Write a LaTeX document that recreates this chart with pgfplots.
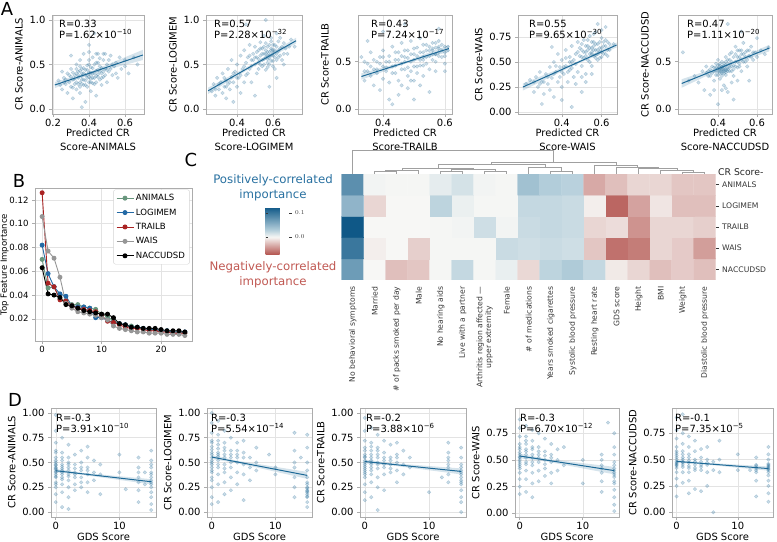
\documentclass[border=0pt]{standalone}
\usepackage{fontspec}
\setmainfont{DejaVu Sans}
\usepackage{pgfplots}
\pgfplotsset{compat=1.18}
\usetikzlibrary{calc}

\definecolor{cblue}{RGB}{28,104,150}
\definecolor{posblue}{RGB}{40,112,160}
\definecolor{negred}{RGB}{192,88,82}
\definecolor{cAn}{RGB}{104,150,125}
\definecolor{cLo}{RGB}{35,105,165}
\definecolor{cTr}{RGB}{170,35,35}
\definecolor{cWa}{RGB}{150,150,150}
\definecolor{dendro}{RGB}{160,160,160}
\definecolor{lbl}{RGB}{55,55,55}

\newcommand\fA{\fontsize{10}{14}\selectfont}
\newcommand\fB{\fontsize{8.6}{10.5}\selectfont}
\newcommand\fH{\fontsize{7.7}{8.8}\selectfont}
\newcommand\fL{\fontsize{18}{20}\selectfont}

\pgfplotsset{
 base/.style={scale only axis, anchor=north west,
   axis line style={draw=gray!65, line width=0.6pt},
   tick style={draw=gray!65, line width=0.6pt},
   tick align=outside, major tick length=3bp,
   xtick pos=bottom, ytick pos=left, grid=major,
   grid style={draw=gray!22, line width=0.5pt},
   /pgf/number format/assume math mode=true,
   tick label style={font=\fA}, label style={font=\fA},
   xticklabel style={yshift=1.5bp}},
 fx1/.style={xticklabel style={/pgf/number format/fixed,/pgf/number format/precision=1,/pgf/number format/fixed zerofill}},
 fy1/.style={yticklabel style={/pgf/number format/fixed,/pgf/number format/precision=1,/pgf/number format/fixed zerofill}},
 fy2/.style={yticklabel style={/pgf/number format/fixed,/pgf/number format/precision=2,/pgf/number format/fixed zerofill}},
 sc/.style={only marks, mark=*, mark size=1.8bp, color=cblue, opacity=0.22},
 scd/.style={only marks, mark=*, mark size=1.8bp, color=cblue, opacity=0.24},
 rl/.style={cblue, line width=1pt, no marks},
 band/.style={fill=cblue, fill opacity=0.18, draw=none, no marks},
 pa/.style={base, fx1, height=99bp, xtick={0.2,0.4,0.6},
   xlabel style={at={(axis description cs:0.5,0)}, anchor=north, align=center, yshift=-15bp, inner sep=0pt}},
 pd/.style={base, fy2, height=109bp, xmin=-0.75, xmax=15.75, xtick={0,10}, xlabel={GDS Score},
   xlabel style={at={(axis description cs:0.5,0)}, anchor=north, yshift=-15.5bp, inner sep=0pt}},
 dl/.style={dendro, line width=0.6pt, no marks},
 bl/.style={line width=0.9pt, mark=*, mark size=2bp},
}

\begin{document}
\begin{tikzpicture}
\useasboundingbox (0,0) rectangle (777bp,-542bp);

%================ Panel A =================
\begin{axis}[pa, at={(52bp,-15bp)}, width=92bp, xmin=0.194, xmax=0.706, ymin=-0.056, ymax=1.056, ytick={0,0.5,1}, fy1,
  xlabel={Predicted CR\\Score-ANIMALS}, ylabel={CR Score-ANIMALS}]
\addplot[band] coordinates {(0.21,0.235)(0.40,0.388)(0.70,0.55)(0.70,0.665)(0.40,0.414)(0.21,0.305)};
\addplot[sc] coordinates {(0.23,0.32)(0.25,0.22)(0.26,0.35)(0.27,0.28)(0.28,0.18)(0.28,0.40)(0.29,0.30)(0.30,0.25)(0.30,0.45)(0.31,0.33)(0.31,0.12)(0.32,0.38)(0.32,0.28)(0.33,0.22)(0.33,0.50)(0.34,0.35)(0.34,0.42)(0.35,0.30)(0.35,0.18)(0.35,0.55)(0.36,0.40)(0.36,0.33)(0.37,0.27)(0.37,0.46)(0.37,0.62)(0.38,0.38)(0.38,0.08)(0.38,0.32)(0.39,0.44)(0.39,0.25)(0.40,0.36)(0.40,0.50)(0.40,0.72)(0.41,0.30)(0.41,0.41)(0.41,0.20)(0.42,0.46)(0.42,0.35)(0.42,0.58)(0.43,0.40)(0.43,0.28)(0.44,0.52)(0.44,0.37)(0.44,0.15)(0.45,0.44)(0.45,0.62)(0.46,0.33)(0.46,0.48)(0.47,0.40)(0.47,0.27)(0.48,0.55)(0.48,0.36)(0.49,0.62)(0.49,0.45)(0.50,0.30)(0.50,0.50)(0.51,0.42)(0.52,0.60)(0.53,0.38)(0.54,0.48)(0.55,0.52)(0.56,0.35)(0.58,0.45)(0.60,0.55)(0.62,0.40)(0.65,0.58)(0.67,0.50)(0.36,0.02)(0.30,0.60)(0.25,0.42)(0.43,0.85)(0.40,0.64)(0.39,0.35)(0.41,0.38)(0.36,0.45)(0.34,0.28)(0.45,0.36)(0.33,0.40)
(0.30,0.36)(0.31,0.41)(0.32,0.34)(0.33,0.30)(0.34,0.38)(0.35,0.43)(0.35,0.25)(0.36,0.37)(0.37,0.33)(0.37,0.40)(0.38,0.44)(0.38,0.27)(0.39,0.38)(0.39,0.49)(0.40,0.41)(0.40,0.30)(0.41,0.47)(0.41,0.34)(0.42,0.40)(0.42,0.29)(0.43,0.50)(0.43,0.35)(0.44,0.43)(0.44,0.30)(0.45,0.39)(0.45,0.52)(0.46,0.42)(0.46,0.57)(0.47,0.46)(0.47,0.35)(0.48,0.42)(0.49,0.38)(0.50,0.44)(0.51,0.55)(0.52,0.45)(0.53,0.50)(0.35,0.48)(0.33,0.45)(0.29,0.38)(0.27,0.33)(0.31,0.24)(0.36,0.28)(0.40,0.55)(0.44,0.62)(0.48,0.62)(0.26,0.30)(0.24,0.27)(0.55,0.40)(0.57,0.58)(0.60,0.48)};
\addplot[rl] coordinates {(0.21,0.27)(0.70,0.607)};
\end{axis}

\begin{axis}[pa, at={(206bp,-15bp)}, width=96bp, xmin=0.228, xmax=0.761, ymin=-0.056, ymax=1.056, ytick={0,0.5,1}, xtick={0.4,0.6}, fy1,
  xlabel={Predicted CR\\Score-LOGIMEM}, ylabel={CR Score-LOGIMEM}]
\addplot[band] coordinates {(0.24,0.17)(0.5,0.49)(0.728,0.735)(0.728,0.80)(0.5,0.52)(0.24,0.24)};
\addplot[sc] coordinates {(0.26,0.20)(0.27,0.28)(0.28,0.15)(0.29,0.35)(0.30,0.22)(0.31,0.30)(0.32,0.18)(0.32,0.40)(0.33,0.25)(0.34,0.32)(0.34,0.12)(0.35,0.45)(0.35,0.28)(0.36,0.22)(0.37,0.36)(0.37,0.55)(0.38,0.30)(0.38,0.08)(0.39,0.42)(0.40,0.25)(0.40,0.50)(0.41,0.35)(0.42,0.60)(0.42,0.18)(0.43,0.45)(0.44,0.30)(0.44,0.66)(0.45,0.52)(0.45,0.38)(0.46,0.58)(0.47,0.45)(0.47,0.72)(0.48,0.55)(0.48,0.30)(0.49,0.62)(0.50,0.50)(0.50,0.70)(0.51,0.58)(0.51,0.40)(0.52,0.66)(0.52,0.52)(0.53,0.75)(0.53,0.60)(0.54,0.48)(0.54,0.68)(0.55,0.56)(0.55,0.82)(0.56,0.62)(0.56,0.44)(0.57,0.70)(0.57,0.56)(0.58,0.64)(0.58,0.50)(0.59,0.76)(0.59,0.60)(0.60,0.66)(0.60,0.54)(0.61,0.72)(0.61,0.45)(0.62,0.62)(0.62,0.85)(0.63,0.58)(0.64,0.68)(0.65,0.55)(0.66,0.74)(0.68,0.62)(0.70,0.78)(0.72,0.70)(0.58,0.25)(0.50,0.15)(0.45,0.95)(0.56,1.00)(0.62,0.35)(0.57,0.60)(0.58,0.57)(0.59,0.66)(0.55,0.62)(0.60,0.60)
(0.50,0.58)(0.51,0.64)(0.52,0.56)(0.53,0.68)(0.53,0.50)(0.54,0.62)(0.55,0.70)(0.55,0.50)(0.56,0.58)(0.56,0.66)(0.56,0.74)(0.57,0.52)(0.57,0.64)(0.58,0.60)(0.58,0.72)(0.59,0.54)(0.59,0.68)(0.60,0.63)(0.60,0.72)(0.60,0.48)(0.61,0.58)(0.61,0.66)(0.62,0.70)(0.62,0.55)(0.63,0.65)(0.63,0.76)(0.64,0.60)(0.65,0.70)(0.66,0.62)(0.67,0.68)(0.48,0.48)(0.47,0.60)(0.46,0.40)(0.44,0.48)(0.42,0.38)(0.40,0.35)(0.38,0.40)(0.36,0.30)(0.34,0.25)(0.30,0.28)(0.28,0.22)(0.33,0.35)(0.49,0.55)(0.52,0.45)(0.54,0.55)(0.57,0.47)(0.59,0.80)(0.64,0.80)(0.66,0.50)(0.69,0.70)};
\addplot[rl] coordinates {(0.24,0.205)(0.728,0.767)};
\end{axis}

\begin{axis}[pa, at={(358bp,-15bp)}, width=94bp, xmin=0.319, xmax=0.623, ymin=-0.053, ymax=0.995, ytick={0,0.5}, xtick={0.4,0.6}, fy1,
  xlabel={Predicted CR\\Score-TRAILB}, ylabel={CR Score-TRAILB}]
\addplot[band] coordinates {(0.33,0.31)(0.47,0.478)(0.613,0.605)(0.613,0.675)(0.47,0.502)(0.33,0.378)};
\addplot[sc] coordinates {(0.33,0.55)(0.34,0.40)(0.34,0.30)(0.35,0.48)(0.36,0.35)(0.36,0.60)(0.37,0.42)(0.37,0.25)(0.38,0.50)(0.38,0.38)(0.39,0.55)(0.39,0.20)(0.40,0.45)(0.40,0.32)(0.40,0.62)(0.41,0.50)(0.41,0.40)(0.42,0.28)(0.42,0.56)(0.43,0.45)(0.43,0.66)(0.44,0.38)(0.44,0.52)(0.45,0.60)(0.45,0.30)(0.46,0.48)(0.46,0.70)(0.47,0.42)(0.47,0.55)(0.48,0.62)(0.48,0.35)(0.49,0.50)(0.49,0.72)(0.50,0.45)(0.50,0.58)(0.51,0.65)(0.51,0.38)(0.52,0.52)(0.52,0.75)(0.53,0.60)(0.53,0.46)(0.54,0.68)(0.54,0.55)(0.55,0.62)(0.55,0.42)(0.56,0.70)(0.56,0.58)(0.57,0.65)(0.57,0.50)(0.58,0.72)(0.58,0.60)(0.59,0.55)(0.60,0.66)(0.60,0.48)(0.61,0.62)(0.45,0.15)(0.50,0.10)(0.48,0.22)(0.43,0.05)(0.52,0.25)(0.55,0.18)(0.40,0.82)(0.47,0.90)(0.58,0.85)(0.35,0.72)(0.42,0.10)(0.56,0.62)(0.57,0.58)(0.58,0.66)(0.53,0.55)
(0.44,0.46)(0.45,0.52)(0.46,0.42)(0.46,0.56)(0.47,0.50)(0.47,0.62)(0.48,0.44)(0.48,0.54)(0.49,0.58)(0.49,0.40)(0.50,0.52)(0.50,0.64)(0.51,0.45)(0.51,0.56)(0.52,0.60)(0.52,0.46)(0.53,0.52)(0.53,0.68)(0.54,0.62)(0.54,0.48)(0.55,0.56)(0.55,0.66)(0.56,0.52)(0.56,0.64)(0.57,0.58)(0.57,0.70)(0.58,0.56)(0.58,0.64)(0.59,0.62)(0.59,0.68)(0.60,0.60)(0.60,0.56)(0.61,0.66)(0.36,0.45)(0.38,0.42)(0.39,0.48)(0.41,0.44)(0.42,0.50)(0.43,0.38)(0.37,0.52)(0.35,0.40)(0.34,0.50)(0.40,0.55)(0.44,0.60)(0.50,0.30)(0.53,0.35)(0.57,0.40)(0.46,0.25)(0.49,0.30)(0.60,0.40)};
\addplot[rl] coordinates {(0.33,0.344)(0.613,0.64)};
\end{axis}

\begin{axis}[pa, at={(518bp,-15bp)}, width=99bp, xmin=0.18, xmax=0.677, ymin=-0.02, ymax=0.97, ytick={0,0.25,0.5,0.75}, xtick={0.4,0.6}, fy2,
  xlabel={Predicted CR\\Score-WAIS}, ylabel={CR Score-WAIS}]
\addplot[band] coordinates {(0.205,0.215)(0.47,0.475)(0.675,0.645)(0.675,0.695)(0.47,0.499)(0.205,0.285)};
\addplot[sc] coordinates {(0.22,0.28)(0.24,0.32)(0.26,0.20)(0.27,0.35)(0.28,0.25)(0.29,0.40)(0.30,0.30)(0.31,0.18)(0.32,0.38)(0.33,0.28)(0.34,0.45)(0.34,0.22)(0.35,0.34)(0.36,0.50)(0.36,0.15)(0.37,0.40)(0.38,0.30)(0.38,0.58)(0.39,0.45)(0.40,0.25)(0.40,0.52)(0.41,0.38)(0.42,0.62)(0.42,0.46)(0.43,0.30)(0.44,0.55)(0.44,0.42)(0.45,0.66)(0.45,0.50)(0.46,0.35)(0.47,0.58)(0.47,0.48)(0.48,0.70)(0.48,0.40)(0.49,0.56)(0.50,0.62)(0.50,0.46)(0.51,0.72)(0.51,0.54)(0.52,0.60)(0.52,0.38)(0.53,0.66)(0.53,0.52)(0.54,0.76)(0.54,0.58)(0.55,0.64)(0.55,0.46)(0.56,0.70)(0.56,0.56)(0.57,0.62)(0.57,0.80)(0.58,0.52)(0.58,0.68)(0.59,0.60)(0.60,0.74)(0.60,0.55)(0.61,0.66)(0.62,0.58)(0.63,0.70)(0.64,0.62)(0.66,0.68)(0.30,0.08)(0.45,0.05)(0.40,0.12)(0.58,0.88)(0.62,0.85)(0.35,0.65)(0.50,0.20)(0.55,0.60)(0.57,0.57)(0.59,0.64)
(0.48,0.60)(0.49,0.64)(0.50,0.55)(0.50,0.68)(0.51,0.60)(0.52,0.66)(0.52,0.56)(0.53,0.62)(0.53,0.72)(0.54,0.64)(0.54,0.50)(0.55,0.58)(0.55,0.70)(0.56,0.62)(0.56,0.66)(0.57,0.54)(0.57,0.68)(0.58,0.62)(0.58,0.58)(0.59,0.70)(0.59,0.54)(0.60,0.64)(0.60,0.60)(0.61,0.70)(0.61,0.58)(0.62,0.66)(0.62,0.72)(0.63,0.62)(0.63,0.56)(0.64,0.68)(0.46,0.52)(0.45,0.44)(0.44,0.50)(0.43,0.40)(0.42,0.54)(0.41,0.45)(0.40,0.40)(0.39,0.35)(0.37,0.46)(0.36,0.38)(0.33,0.35)(0.31,0.30)(0.29,0.28)(0.26,0.30)(0.50,0.35)(0.55,0.38)(0.52,0.30)(0.47,0.28)(0.56,0.78)(0.60,0.82)};
\addplot[rl] coordinates {(0.205,0.25)(0.675,0.67)};
\end{axis}

\begin{axis}[pa, at={(678bp,-15bp)}, width=94bp, xmin=0.195, xmax=0.677, ymin=-0.053, ymax=0.995, ytick={0,0.5}, xtick={0.4,0.6}, fy1,
  xlabel={Predicted CR\\Score-NACCUDSD}, ylabel={CR Score-NACCUDSD}]
\addplot[band] coordinates {(0.214,0.225)(0.44,0.448)(0.663,0.61)(0.663,0.68)(0.44,0.47)(0.214,0.315)};
\addplot[sc] coordinates {(0.22,0.60)(0.25,0.30)(0.28,0.35)(0.30,0.28)(0.32,0.40)(0.33,0.20)(0.34,0.45)(0.35,0.35)(0.36,0.42)(0.36,0.15)(0.37,0.38)(0.38,0.44)(0.38,0.30)(0.39,0.40)(0.39,0.48)(0.40,0.36)(0.40,0.43)(0.40,0.52)(0.41,0.40)(0.41,0.46)(0.41,0.32)(0.42,0.42)(0.42,0.38)(0.42,0.50)(0.43,0.44)(0.43,0.40)(0.43,0.25)(0.44,0.46)(0.44,0.36)(0.44,0.55)(0.45,0.42)(0.45,0.48)(0.45,0.18)(0.46,0.44)(0.46,0.52)(0.47,0.40)(0.47,0.60)(0.48,0.46)(0.48,0.35)(0.49,0.50)(0.49,0.66)(0.50,0.44)(0.50,0.55)(0.51,0.48)(0.51,0.62)(0.52,0.52)(0.52,0.40)(0.53,0.58)(0.53,0.70)(0.54,0.50)(0.55,0.62)(0.55,0.45)(0.56,0.56)(0.57,0.66)(0.58,0.52)(0.59,0.60)(0.60,0.55)(0.62,0.62)(0.64,0.58)(0.66,0.65)(0.45,0.90)(0.52,0.82)(0.40,0.05)(0.48,0.10)(0.56,0.30)(0.38,0.20)(0.60,0.75)(0.42,0.44)(0.43,0.42)(0.44,0.41)(0.41,0.43)
(0.40,0.40)(0.40,0.46)(0.41,0.42)(0.41,0.38)(0.41,0.48)(0.42,0.40)(0.42,0.45)(0.42,0.35)(0.43,0.46)(0.43,0.38)(0.43,0.48)(0.44,0.42)(0.44,0.39)(0.44,0.50)(0.45,0.44)(0.45,0.40)(0.45,0.52)(0.46,0.47)(0.46,0.40)(0.46,0.58)(0.47,0.45)(0.47,0.50)(0.48,0.42)(0.48,0.55)(0.49,0.45)(0.49,0.58)(0.50,0.50)(0.50,0.62)(0.51,0.55)(0.51,0.45)(0.52,0.58)(0.52,0.62)(0.53,0.50)(0.54,0.60)(0.54,0.55)(0.55,0.52)(0.56,0.62)(0.57,0.55)(0.58,0.60)(0.39,0.44)(0.39,0.36)(0.38,0.40)(0.37,0.45)(0.36,0.35)(0.35,0.40)(0.34,0.38)(0.44,0.22)(0.42,0.20)(0.47,0.28)(0.50,0.30)};
\addplot[rl] coordinates {(0.214,0.27)(0.663,0.645)};
\end{axis}

%================ Panel B =================
\begin{axis}[base, fy2, at={(35bp,-188bp)}, width=157bp, height=153bp, xmin=-1.2, xmax=25.2, ymin=0.0014, ymax=0.130,
  xtick={0,10,20}, ytick={0.02,0.04,0.06,0.08,0.10,0.12}, tick label style={font=\fB}, label style={font=\fB},
  ylabel={Top Feature Importance}, ylabel shift=-6bp,
  legend style={at={(0.985,0.99)}, anchor=north east, draw=gray!35, rounded corners=2bp, fill=white, font=\fB, row sep=2.6bp, inner sep=2.5bp, cells={anchor=west}}]
\addplot[bl, cAn] coordinates {(0,0.070)(1,0.046)(2,0.047)(3,0.037)(4,0.035)(5,0.032)(6,0.032)(7,0.030)(8,0.029)(9,0.028)(10,0.024)(11,0.022)(12,0.018)(13,0.016)(14,0.015)(15,0.014)(16,0.013)(17,0.012)(18,0.011)(19,0.011)(20,0.010)(21,0.010)(22,0.009)(23,0.009)(24,0.008)};
\addlegendentry{ANIMALS}
\addplot[bl, cLo] coordinates {(0,0.082)(1,0.058)(2,0.047)(3,0.041)(4,0.039)(5,0.031)(6,0.030)(7,0.030)(8,0.029)(9,0.021)(10,0.021)(11,0.019)(12,0.017)(13,0.016)(14,0.015)(15,0.013)(16,0.013)(17,0.012)(18,0.011)(19,0.011)(20,0.010)(21,0.010)(22,0.009)(23,0.009)(24,0.009)};
\addlegendentry{LOGIMEM}
\addplot[bl, cTr] coordinates {(0,0.126)(1,0.050)(2,0.047)(3,0.036)(4,0.035)(5,0.031)(6,0.029)(7,0.028)(8,0.027)(9,0.026)(10,0.023)(11,0.018)(12,0.017)(13,0.015)(14,0.013)(15,0.012)(16,0.012)(17,0.011)(18,0.010)(19,0.010)(20,0.009)(21,0.009)(22,0.008)(23,0.008)(24,0.008)};
\addlegendentry{TRAILB}
\addplot[bl, cWa] coordinates {(0,0.106)(1,0.077)(2,0.071)(3,0.055)(4,0.033)(5,0.029)(6,0.026)(7,0.025)(8,0.024)(9,0.023)(10,0.021)(11,0.019)(12,0.014)(13,0.012)(14,0.011)(15,0.010)(16,0.009)(17,0.009)(18,0.008)(19,0.008)(20,0.008)(21,0.007)(22,0.007)(23,0.007)(24,0.006)};
\addlegendentry{WAIS}
\addplot[bl, black] coordinates {(0,0.063)(1,0.041)(2,0.040)(3,0.038)(4,0.032)(5,0.031)(6,0.029)(7,0.027)(8,0.026)(9,0.025)(10,0.024)(11,0.024)(12,0.021)(13,0.016)(14,0.015)(15,0.013)(16,0.013)(17,0.012)(18,0.012)(19,0.012)(20,0.011)(21,0.010)(22,0.010)(23,0.010)(24,0.009)};
\addlegendentry{NACCUDSD}
\end{axis}

%================ Panel C: dendrogram =================
\begin{axis}[at={(341.7bp,-148bp)}, anchor=north west, scale only axis, width=374bp, height=26bp,
  xmin=-0.5, xmax=16.5, ymin=0, ymax=26, hide axis, clip=false]
\addplot[dl] coordinates {(1,0)(1,2.5)(2,2.5)(2,0)};
\addplot[dl] coordinates {(1.5,2.5)(1.5,4)(3,4)(3,0)};
\addplot[dl] coordinates {(4,0)(4,2.5)(5,2.5)(5,0)};
\addplot[dl] coordinates {(6,0)(6,2.5)(7,2.5)(7,0)};
\addplot[dl] coordinates {(4.5,2.5)(4.5,4.5)(6.5,4.5)(6.5,2.5)};
\addplot[dl] coordinates {(2.25,4)(2.25,6)(5.5,6)(5.5,4.5)};
\addplot[dl] coordinates {(9,0)(9,3)(10,3)(10,0)};
\addplot[dl] coordinates {(8,0)(8,7)(9.5,7)(9.5,3)};
\addplot[dl] coordinates {(3.875,6)(3.875,10)(8.75,10)(8.75,7)};
\addplot[dl] coordinates {(15,0)(15,2)(16,2)(16,0)};
\addplot[dl] coordinates {(14,0)(14,4)(15.5,4)(15.5,2)};
\addplot[dl] coordinates {(13,0)(13,5.5)(14.75,5.5)(14.75,4)};
\addplot[dl] coordinates {(12,0)(12,7)(13.875,7)(13.875,5.5)};
\addplot[dl] coordinates {(11,0)(11,9)(12.94,9)(12.94,7)};
\addplot[dl] coordinates {(6.3125,10)(6.3125,12)(11.97,12)(11.97,9)};
\addplot[dl] coordinates {(0,0)(0,24)(9.14,24)(9.14,12)};
\end{axis}

%================ Panel C: heatmap =================
\begin{axis}[at={(341.7bp,-174bp)}, anchor=north west, scale only axis, width=374bp, height=106bp,
  xmin=-0.5, xmax=16.5, ymin=-0.5, ymax=4.5, axis line style={draw=none},
  xtick={0,...,16},
  xticklabels={No behavioral symptoms, Married, \# of packs smoked per day, Male, No hearing aids, Live with a partner, {Arthritis region affected —\\upper extremity}, Female, \# of medications, Years smoked cigarettes, Systolic blood pressure, Resting heart rate, GDS score, Height, BMI, Weight, Diastolic blood pressure},
  xticklabel style={rotate=90, anchor=east, align=center, font=\fH, text=lbl},
  xtick style={draw=none},
  ytick={0,...,4}, yticklabels={NACCUDSD,WAIS,TRAILB,LOGIMEM,ANIMALS},
  yticklabel pos=right, ytick pos=right, yticklabel style={font=\fH, text=lbl},
  ytick style={draw=lbl, line width=0.5pt}, tick align=outside, major tick length=3bp,
  colormap={hm}{rgb255(0pt)=(178,80,75); rgb255(75pt)=(247,247,245); rgb255(105pt)=(178,205,218); rgb255(200pt)=(15,88,135)},
  point meta min=-0.075, point meta max=0.125,
  colorbar,
  colorbar style={at={($(parent axis.south west)+(-84.7bp,73bp)$)}, anchor=north west, scale only axis, width=26bp, height=48bp,
    ytick={0,0.1}, yticklabel style={font=\fontsize{6.3}{7}\selectfont, text=lbl, /pgf/number format/fixed, /pgf/number format/precision=1, /pgf/number format/fixed zerofill},
    axis line style={draw=none}, ytick style={draw=lbl}, major tick length=2.5bp}]
\addplot[matrix plot*, mesh/cols=17, point meta=explicit] coordinates {
(0,0) [0.070] (1,0) [0.000] (2,0) [-0.025] (3,0) [-0.022] (4,0) [0.001] (5,0) [0.022] (6,0) [0.001] (7,0) [0.006] (8,0) [-0.014] (9,0) [0.025] (10,0) [0.032] (11,0) [0.022] (12,0) [-0.006] (13,0) [-0.015] (14,0) [-0.025] (15,0) [-0.020] (16,0) [-0.025]

(0,1) [0.100] (1,1) [-0.004] (2,1) [0.000] (3,1) [-0.018] (4,1) [0.001] (5,1) [0.001] (6,1) [0.001] (7,1) [0.020] (8,1) [0.018] (9,1) [0.020] (10,1) [0.018] (11,1) [-0.022] (12,1) [-0.060] (13,1) [-0.055] (14,1) [-0.015] (15,1) [-0.020] (16,1) [-0.040]

(0,2) [0.125] (1,2) [0.000] (2,2) [0.000] (3,2) [0.000] (4,2) [0.001] (5,2) [0.002] (6,2) [0.018] (7,2) [0.002] (8,2) [0.020] (9,2) [0.022] (10,2) [0.020] (11,2) [-0.015] (12,2) [-0.012] (13,2) [-0.045] (14,2) [-0.015] (15,2) [-0.015] (16,2) [-0.018]

(0,3) [0.050] (1,3) [-0.015] (2,3) [0.000] (3,3) [0.000] (4,3) [0.025] (5,3) [0.005] (6,3) [0.001] (7,3) [0.001] (8,3) [0.022] (9,3) [0.022] (10,3) [0.020] (11,3) [-0.004] (12,3) [-0.065] (13,3) [-0.038] (14,3) [-0.008] (15,3) [-0.025] (16,3) [-0.025]

(0,4) [0.080] (1,4) [0.002] (2,4) [0.001] (3,4) [0.001] (4,4) [0.008] (5,4) [0.015] (6,4) [0.002] (7,4) [0.001] (8,4) [0.040] (9,4) [0.030] (10,4) [0.027] (11,4) [-0.035] (12,4) [-0.025] (13,4) [-0.015] (14,4) [-0.015] (15,4) [-0.022] (16,4) [-0.022]
};
\end{axis}

%================ Panel D =================
\begin{axis}[pd, at={(51bp,-408bp)}, width=105bp, ymin=-0.05, ymax=1.05, ytick={0,0.25,0.5,0.75,1}, ylabel={CR Score-ANIMALS}]
\addplot[band] coordinates {(0,0.40)(4,0.377)(15,0.28)(15,0.332)(4,0.397)(0,0.434)};
\addplot[scd] coordinates {(0,0.98)(0,0.82)(0,0.70)(0,0.62)(0,0.55)(0,0.50)(0,0.47)(0,0.44)(0,0.41)(0,0.38)(0,0.35)(0,0.30)(0,0.25)(0,0.18)(0,0.10)(0,0.45)(0,0.40)
(1,0.75)(1,0.60)(1,0.52)(1,0.46)(1,0.42)(1,0.38)(1,0.33)(1,0.28)(1,0.20)(1,0.05)(1,0.44)
(2,0.68)(2,0.55)(2,0.48)(2,0.42)(2,0.38)(2,0.32)(2,0.25)(2,0.15)(2,0.03)
(3,0.58)(3,0.48)(3,0.40)(3,0.35)(3,0.28)(3,0.22)
(4,0.62)(4,0.50)(4,0.42)(4,0.35)(4,0.25)
(5,0.66)(5,0.55)(5,0.45)(5,0.38)(5,0.30)(5,0.20)
(6,0.52)(6,0.40)(6,0.32)(7,0.48)(7,0.38)(7,0.18)
(10,0.58)(10,0.40)(11,0.23)
(13,0.55)(13,0.45)(13,0.35)(13,0.30)(13,0.22)(13,0.10)(14,0.40)(14,0.28)
(15,0.62)(15,0.52)(15,0.45)(15,0.40)(15,0.35)(15,0.30)(15,0.25)(15,0.20)(15,0.15)(15,0.08)(15,0.02)
(0,0.43)(0,0.36)(0,0.48)(0,0.52)(0,0.28)(0,0.60)(1,0.40)(1,0.48)(1,0.35)(1,0.55)(2,0.45)(2,0.36)(2,0.50)(3,0.44)(3,0.38)(4,0.45)(4,0.30)(5,0.42)(15,0.32)(15,0.38)(15,0.28)(15,0.48)(13,0.40)};
\addplot[rl] coordinates {(0,0.417)(15,0.306)};
\end{axis}

\begin{axis}[pd, at={(207bp,-408bp)}, width=105bp, ymin=-0.05, ymax=1.05, ytick={0,0.25,0.5,0.75,1}, ylabel={CR Score-LOGIMEM}]
\addplot[band] coordinates {(0,0.535)(4,0.494)(15,0.335)(15,0.405)(4,0.518)(0,0.575)};
\addplot[scd] coordinates {(0,1.00)(0,0.90)(0,0.80)(0,0.72)(0,0.66)(0,0.60)(0,0.55)(0,0.50)(0,0.45)(0,0.40)(0,0.32)(0,0.25)(0,0.15)(0,0.08)(0,0.63)(0,0.52)
(1,0.92)(1,0.78)(1,0.68)(1,0.60)(1,0.52)(1,0.45)(1,0.38)(1,0.28)(1,0.10)(1,0.56)
(2,0.82)(2,0.70)(2,0.62)(2,0.55)(2,0.48)(2,0.40)(2,0.30)(2,0.18)
(3,0.75)(3,0.62)(3,0.55)(3,0.45)(3,0.35)(3,0.22)
(4,0.70)(4,0.58)(4,0.50)(4,0.40)(4,0.28)
(5,0.72)(5,0.60)(5,0.48)(5,0.38)(5,0.12)
(6,0.55)(6,0.45)(6,0.32)(7,0.65)(7,0.50)(7,0.42)
(9,0.58)(10,0.45)(10,0.38)
(13,0.80)(13,0.62)(13,0.50)(13,0.35)(13,0.25)(13,0.15)(14,0.55)
(15,0.78)(15,0.65)(15,0.50)(15,0.42)(15,0.30)(15,0.25)(15,0.22)(15,0.20)(15,0.18)(15,0.15)(15,0.10)(15,0.05)
(0,0.58)(0,0.48)(0,0.70)(0,0.42)(0,0.35)(1,0.64)(1,0.48)(1,0.72)(1,0.58)(2,0.58)(2,0.65)(2,0.44)(3,0.58)(3,0.50)(4,0.55)(4,0.62)(5,0.55)(15,0.24)(15,0.28)(15,0.21)(15,0.16)(15,0.35)(13,0.45)};
\addplot[rl] coordinates {(0,0.555)(15,0.37)};
\end{axis}

\begin{axis}[pd, at={(360bp,-408bp)}, width=106bp, ymin=-0.05, ymax=1.05, ytick={0,0.25,0.5,0.75,1}, ylabel={CR Score-TRAILB}]
\addplot[band] coordinates {(0,0.49)(4,0.472)(15,0.38)(15,0.44)(4,0.494)(0,0.53)};
\addplot[scd] coordinates {(0,0.95)(0,0.82)(0,0.72)(0,0.65)(0,0.58)(0,0.52)(0,0.48)(0,0.44)(0,0.40)(0,0.35)(0,0.28)(0,0.20)(0,0.12)(0,0.55)(0,0.46)
(1,0.85)(1,0.70)(1,0.62)(1,0.55)(1,0.50)(1,0.45)(1,0.38)(1,0.30)(1,0.15)(1,0.52)
(2,0.78)(2,0.65)(2,0.58)(2,0.50)(2,0.44)(2,0.35)(2,0.25)(2,0.02)
(3,0.72)(3,0.60)(3,0.52)(3,0.45)(3,0.38)(3,0.22)
(4,0.68)(4,0.55)(4,0.48)(4,0.40)
(5,0.70)(5,0.58)(5,0.50)(5,0.42)(5,0.30)
(6,0.62)(6,0.48)(6,0.38)(7,0.55)(7,0.45)
(10,0.20)(12,0.35)
(13,0.70)(13,0.60)(13,0.52)(13,0.45)(13,0.38)(13,0.30)
(15,0.65)(15,0.55)(15,0.48)(15,0.42)(15,0.38)(15,0.32)(15,0.28)(15,0.22)(15,0.15)(15,0.10)(15,0.00)
(0,0.50)(0,0.62)(0,0.42)(0,0.56)(0,0.38)(1,0.58)(1,0.48)(1,0.66)(1,0.42)(2,0.55)(2,0.48)(2,0.62)(3,0.55)(3,0.48)(4,0.52)(4,0.44)(5,0.55)(15,0.40)(15,0.35)(15,0.45)(15,0.30)(13,0.55)(13,0.48)};
\addplot[rl] coordinates {(0,0.51)(15,0.41)};
\end{axis}

\begin{axis}[pd, at={(515bp,-408bp)}, width=104bp, ymin=-0.035, ymax=0.987, ytick={0,0.25,0.5,0.75}, ylabel={CR Score-WAIS}]
\addplot[band] coordinates {(0,0.515)(4,0.488)(15,0.365)(15,0.435)(4,0.512)(0,0.559)};
\addplot[scd] coordinates {(0,0.88)(0,0.80)(0,0.72)(0,0.65)(0,0.60)(0,0.55)(0,0.50)(0,0.46)(0,0.42)(0,0.38)(0,0.32)(0,0.25)(0,0.18)(0,0.53)
(1,0.82)(1,0.72)(1,0.65)(1,0.58)(1,0.52)(1,0.46)(1,0.40)(1,0.32)(1,0.20)
(2,0.78)(2,0.68)(2,0.60)(2,0.52)(2,0.45)(2,0.38)(2,0.28)(2,0.15)
(3,0.75)(3,0.62)(3,0.55)(3,0.48)(3,0.40)(3,0.30)
(4,0.70)(4,0.58)(4,0.50)(4,0.42)(4,0.35)
(5,0.65)(5,0.55)(5,0.48)(5,0.38)(5,0.28)
(6,0.60)(6,0.50)(6,0.40)(7,0.62)(7,0.45)
(10,0.50)(10,0.28)
(13,0.55)(13,0.45)(13,0.38)(13,0.30)(13,0.20)(14,0.85)
(15,0.75)(15,0.62)(15,0.55)(15,0.48)(15,0.42)(15,0.38)(15,0.34)(15,0.28)(15,0.22)(15,0.15)(15,0.08)(15,0.02)
(0,0.57)(0,0.48)(0,0.62)(0,0.52)(0,0.44)(1,0.55)(1,0.60)(1,0.48)(1,0.68)(2,0.55)(2,0.48)(2,0.62)(3,0.52)(3,0.58)(4,0.54)(4,0.46)(5,0.52)(15,0.40)(15,0.36)(15,0.45)(15,0.30)(13,0.42)(13,0.50)};
\addplot[rl] coordinates {(0,0.537)(15,0.40)};
\end{axis}

\begin{axis}[pd, at={(672bp,-408bp)}, width=101bp, ymin=-0.045, ymax=0.99, ytick={0,0.25,0.5,0.75}, ylabel={CR Score-NACCUDSD}]
\addplot[band] coordinates {(0,0.468)(4,0.457)(15,0.395)(15,0.435)(4,0.473)(0,0.498)};
\addplot[scd] coordinates {(0,0.90)(0,0.78)(0,0.70)(0,0.62)(0,0.56)(0,0.52)(0,0.48)(0,0.45)(0,0.42)(0,0.38)(0,0.32)(0,0.25)(0,0.15)(0,0.47)
(1,0.93)(1,0.75)(1,0.65)(1,0.58)(1,0.52)(1,0.47)(1,0.43)(1,0.38)(1,0.28)
(2,0.72)(2,0.62)(2,0.55)(2,0.49)(2,0.44)(2,0.38)(2,0.30)(2,0.18)
(3,0.68)(3,0.58)(3,0.50)(3,0.45)(3,0.40)(3,0.22)
(4,0.60)(4,0.52)(4,0.45)(4,0.40)(4,0.20)
(5,0.62)(5,0.50)(5,0.45)(5,0.38)(5,0.25)
(6,0.00)(6,0.48)(6,0.40)(7,0.68)(7,0.50)(7,0.38)
(10,0.55)(10,0.40)(12,0.40)
(13,0.52)(13,0.45)(13,0.42)(13,0.38)(13,0.30)(13,0.15)
(15,0.62)(15,0.55)(15,0.50)(15,0.46)(15,0.43)(15,0.41)(15,0.38)(15,0.35)(15,0.30)(15,0.25)(15,0.18)(15,0.10)
(0,0.50)(0,0.46)(0,0.54)(0,0.44)(0,0.58)(1,0.50)(1,0.45)(1,0.55)(1,0.48)(2,0.47)(2,0.52)(2,0.42)(3,0.48)(3,0.42)(4,0.48)(4,0.43)(5,0.47)(15,0.42)(15,0.44)(15,0.40)(15,0.45)(13,0.44)(13,0.40)};
\addplot[rl] coordinates {(0,0.483)(15,0.415)};
\end{axis}

%================ Texts =================
\begin{scope}[every node/.style={font=\fA, anchor=base west, inner sep=0pt}]
\node at (59bp,-27bp) {R=0.33};
\node at (59bp,-38bp) {P=1.62×10\textsuperscript{−10}};
\node at (214bp,-27bp) {R=0.57};
\node at (214bp,-38bp) {P=2.28×10\textsuperscript{−32}};
\node at (371bp,-27bp) {R=0.43};
\node at (371bp,-38bp) {P=7.24×10\textsuperscript{−17}};
\node at (529bp,-27bp) {R=0.55};
\node at (529bp,-38bp) {P=9.65×10\textsuperscript{−30}};
\node at (687bp,-27bp) {R=0.47};
\node at (687bp,-38bp) {P=1.11×10\textsuperscript{−20}};
\node at (56bp,-421bp) {R=-0.3};
\node at (56bp,-432bp) {P=3.91×10\textsuperscript{−10}};
\node at (211bp,-421bp) {R=-0.3};
\node at (211bp,-432bp) {P=5.54×10\textsuperscript{−14}};
\node at (366bp,-421bp) {R=-0.2};
\node at (366bp,-432bp) {P=3.88×10\textsuperscript{−6}};
\node at (520bp,-421bp) {R=-0.3};
\node at (520bp,-432bp) {P=6.70×10\textsuperscript{−12}};
\node at (675bp,-421bp) {R=-0.1};
\node at (675bp,-432bp) {P=7.35×10\textsuperscript{−5}};
\end{scope}

\node[font=\fL] at (7bp,-9bp) {A};
\node[font=\fL] at (19bp,-181bp) {B};
\node[font=\fL] at (191bp,-160bp) {C};
\node[font=\fL] at (15bp,-400bp) {D};

\node[font=\fontsize{11.8}{15}\selectfont, text=posblue, align=center] at (273bp,-187.5bp) {Positively-correlated\\importance};
\node[font=\fontsize{11.8}{15}\selectfont, text=negred, align=center] at (273bp,-274.5bp) {Negatively-correlated\\importance};
\node[font=\fontsize{9.3}{11}\selectfont, text=black!85, anchor=west, inner sep=0pt] at (718bp,-172bp) {CR Score-};
\end{tikzpicture}
\end{document}
